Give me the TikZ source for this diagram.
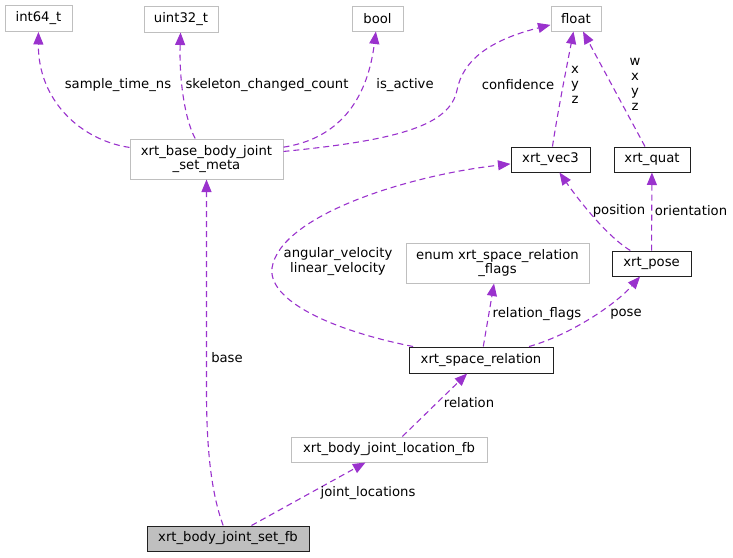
\documentclass[tikz,border=0pt]{standalone}
\usepackage{fontspec}
\setmainfont{DejaVu Sans}
\usetikzlibrary{arrows.meta}
\definecolor{edgec}{HTML}{9A32CD}
\definecolor{graybd}{HTML}{BFBFBF}
\definecolor{selfill}{HTML}{BFBFBF}
\definecolor{docbd}{HTML}{202020}
\begin{document}
\begin{tikzpicture}[x=1pt,y=-1pt,
  font=\fontsize{13.2}{14.8}\selectfont,
  box/.style={draw=graybd, line width=1pt, fill=white, inner sep=0pt, align=center, minimum height=25pt},
  docbox/.style={box, draw=docbd, line width=1pt},
  edge/.style={draw=edgec, line width=1.1pt, dash pattern=on 6pt off 4pt, -{Triangle[length=12.5pt,width=10pt]}},
  lab/.style={inner sep=0pt, align=center}]
\useasboundingbox (0,0) rectangle (733,557);

% nodes
\node[box, minimum width=67pt, minimum height=26pt] (int64) at (38.5,18.5) {int64\_t};
\node[box, minimum width=74pt, minimum height=26pt] (uint32) at (181,19) {uint32\_t};
\node[box, minimum width=51pt] (bool) at (377.5,18.5) {bool};
\node[box, minimum width=50pt] (float) at (576,18.5) {float};
\node[box, minimum width=153pt, minimum height=40pt] (meta) at (206.5,159) {xrt\_base\_body\_joint\\\_set\_meta};
\node[docbox, minimum width=79pt] (vec3) at (550.5,159.5) {xrt\_vec3};
\node[docbox, minimum width=76pt] (quat) at (652,159.5) {xrt\_quat};
\node[box, minimum width=183pt, minimum height=40pt] (flags) at (497.5,263) {enum xrt\_space\_relation\\\_flags};
\node[docbox, minimum width=79pt] (pose) at (651.5,263.5) {xrt\_pose};
\node[docbox, minimum width=144pt, minimum height=26pt] (rel) at (481,360) {xrt\_space\_relation};
\node[box, minimum width=196pt] (loc) at (389,449.5) {xrt\_body\_joint\_location\_fb};
\node[docbox, fill=selfill, minimum width=162pt] (set) at (228,538.5) {xrt\_body\_joint\_set\_fb};

% edges
\draw[edge] (meta) .. controls (80,140) and (38,100) .. (int64);
\draw[edge] (meta) .. controls (185,120) and (179,80) .. (uint32);
\draw[edge] (meta) .. controls (330,140) and (366,110) .. (bool);
\draw[edge] (meta) .. controls (400,140) and (450,125) .. (457,90) .. controls (463,60) and (490,40) .. (float);
\draw[edge] (vec3) .. controls (558,110) and (568,60) .. (float);
\draw[edge] (quat) -- (float);
\draw[edge] (pose) .. controls (605,235) and (575,195) .. (vec3);
\draw[edge] (pose) -- (quat);
\draw[edge] (rel) .. controls (330,330) and (268,300) .. (272,268) .. controls (280,215) and (410,175) .. (vec3);
\draw[edge] (rel) -- (flags);
\draw[edge] (rel) .. controls (570,335) and (615,305) .. (pose);
\draw[edge] (loc) -- (rel);
\draw[edge] (set) -- (loc);
\draw[edge] (set) .. controls (210,490) and (206,440) .. (206.5,380) -- (meta);

% labels
\node[lab] (l1) at (118,85) {sample\_time\_ns};
\node[lab] (l2) at (267,85) {skeleton\_changed\_count};
\node[lab] (l3) at (405,85) {is\_active};
\node[lab] (l4) at (518,85) {confidence};
\node[lab] (l5) at (575,85) {x\\y\\z};
\node[lab] (l6) at (635,84.5) {w\\x\\y\\z};
\node[lab] (l7) at (619,211) {position};
\node[lab] (l8) at (691,211) {orientation};
\node[lab] (l9) at (338,261.5) {angular\_velocity\\linear\_velocity};
\node[lab] (l10) at (537,314) {relation\_flags};
\node[lab] (l11) at (626,314) {pose};
\node[lab] (l12) at (469,403) {relation};
\node[lab] (l13) at (368,493) {joint\_locations};
\node[lab] (l14) at (227,358) {base};
\end{tikzpicture}
\end{document}
